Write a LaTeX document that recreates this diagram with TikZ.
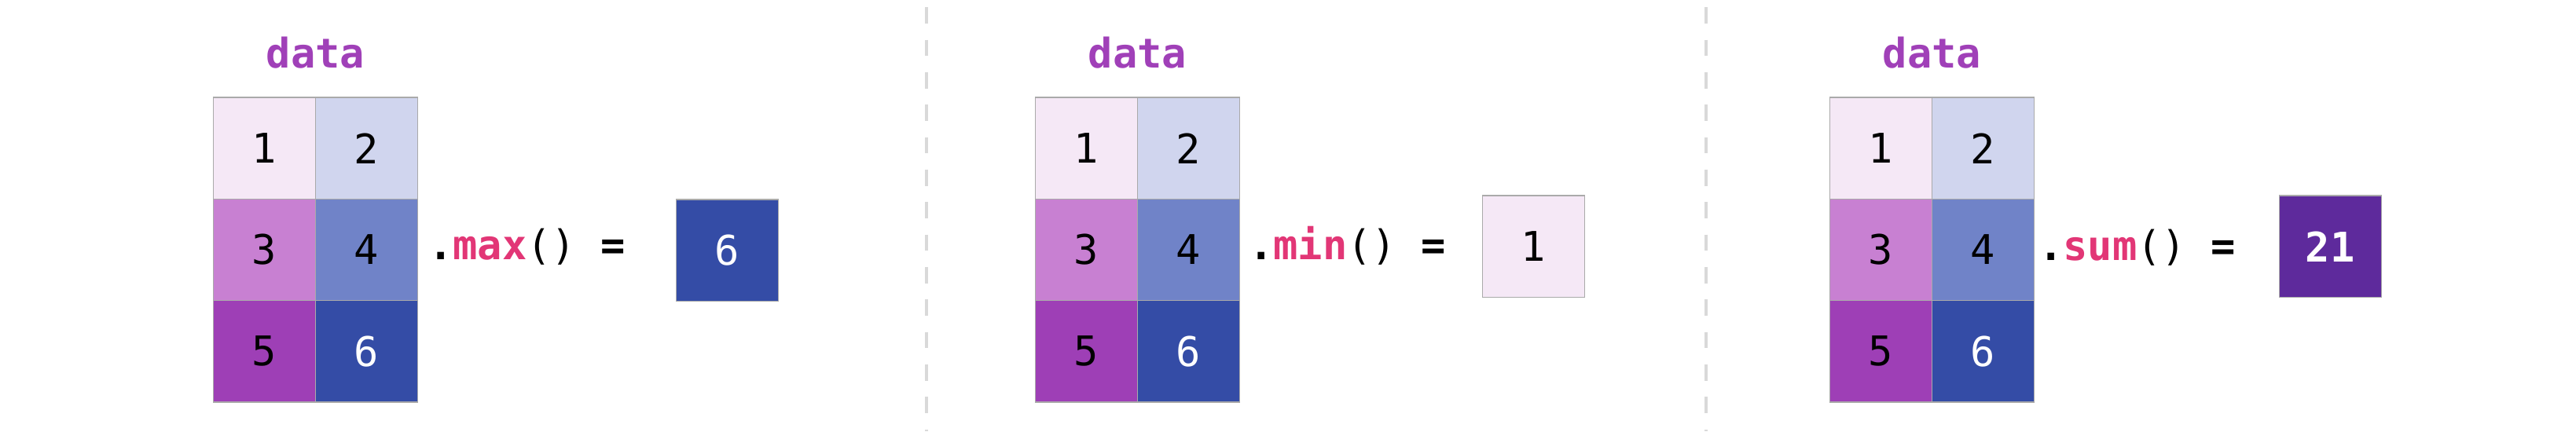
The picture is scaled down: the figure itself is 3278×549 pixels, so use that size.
\documentclass[tikz,border=0pt]{standalone}
\usepackage{fontspec}
\setmainfont{DejaVu Sans Mono}
\setmonofont{DejaVu Sans Mono}
\definecolor{cA}{RGB}{245,232,246}
\definecolor{cB}{RGB}{208,213,238}
\definecolor{cC}{RGB}{200,128,210}
\definecolor{cD}{RGB}{112,131,200}
\definecolor{cE}{RGB}{158,63,182}
\definecolor{cF}{RGB}{52,76,166}
\definecolor{cSum}{RGB}{94,42,156}
\definecolor{dataCol}{RGB}{160,64,184}
\definecolor{methCol}{RGB}{226,54,118}
\definecolor{edgeCol}{RGB}{170,170,170}
\definecolor{sepCol}{RGB}{217,217,217}
\newcommand\dgfont{\fontsize{15.6}{18}\selectfont}
\begin{document}
\begin{tikzpicture}[x=0.3pt,y=-0.3pt,
  cell/.style={draw=edgeCol, line width=0.4pt, minimum width=39pt, minimum height=38.8pt, inner sep=0pt, font=\dgfont},
  lbl/.style={anchor=base, inner sep=0pt, font=\dgfont\bfseries, text=dataCol},
  meth/.style={anchor=base west, inner sep=0pt, font=\dgfont},
  sepline/.style={draw=sepCol, line width=1pt, dash pattern=on 6.2pt off 6.2pt}]
\useasboundingbox[fill=white] (0,0) rectangle (3278,549);
% ---------- panel 1 ----------
\node[lbl] (d1) at (401.5,86.7) {data};
\node[cell, fill=cA] (p1a) at (336.5,188.7) {1};
\node[cell, fill=cB] (p1b) at (466.5,188.7) {2};
\node[cell, fill=cC] (p1c) at (336.5,318) {3};
\node[cell, fill=cD] (p1d) at (466.5,318) {4};
\node[cell, fill=cE] (p1e) at (336.5,447.3) {5};
\node[cell, fill=cF, text=white] (p1f) at (466.5,447.3) {6};
\node[meth] (m1) at (544.5,330) {\textbf{.}\textbf{\color{methCol}max}() \textbf{=}};
\node[cell, fill=cF, text=white] (r1) at (925.5,318.5) {6};
% ---------- panel 2 ----------
\node[lbl] (d2) at (1447.5,86.7) {data};
\node[cell, fill=cA] (p2a) at (1382.5,188.7) {1};
\node[cell, fill=cB] (p2b) at (1512.5,188.7) {2};
\node[cell, fill=cC] (p2c) at (1382.5,318) {3};
\node[cell, fill=cD] (p2d) at (1512.5,318) {4};
\node[cell, fill=cE] (p2e) at (1382.5,447.3) {5};
\node[cell, fill=cF, text=white] (p2f) at (1512.5,447.3) {6};
\node[meth] (m2) at (1588.5,330) {\textbf{.}\textbf{\color{methCol}min}() \textbf{=}};
\node[cell, fill=cA] (r2) at (1951.3,313.7) {1};
% ---------- panel 3 ----------
\node[lbl] (d3) at (2458.3,86.7) {data};
\node[cell, fill=cA] (p3a) at (2393.3,188.7) {1};
\node[cell, fill=cB] (p3b) at (2523.3,188.7) {2};
\node[cell, fill=cC] (p3c) at (2393.3,318) {3};
\node[cell, fill=cD] (p3d) at (2523.3,318) {4};
\node[cell, fill=cE] (p3e) at (2393.3,447.3) {5};
\node[cell, fill=cF, text=white] (p3f) at (2523.3,447.3) {6};
\node[meth] (m3) at (2593.5,331) {\textbf{.}\textbf{\color{methCol}sum}() \textbf{=}};
\node[cell, fill=cSum, text=white, font=\dgfont\bfseries] (r3) at (2965.2,313.7) {21};
% ---------- separators ----------
\coordinate (s1t) at (1179,9.3);
\coordinate (s1b) at (1179,549);
\coordinate (s2t) at (2171,9.3);
\coordinate (s2b) at (2171,549);
\draw[sepline] (s1t) -- (s1b);
\draw[sepline] (s2t) -- (s2b);
\end{tikzpicture}
\end{document}
